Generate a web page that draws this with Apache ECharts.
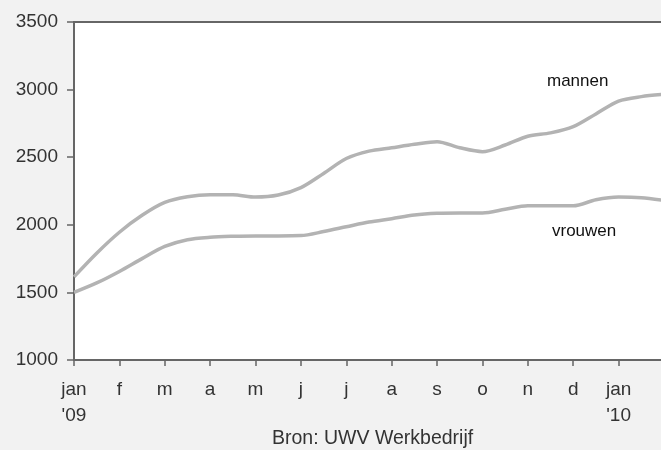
<!DOCTYPE html>
<html>
<head>
<meta charset="utf-8">
<script src="https://cdn.jsdelivr.net/npm/echarts@6/dist/echarts.min.js"></script>
<style>
html,body{margin:0;padding:0;background:#f2f2f2;overflow:hidden;}
#chart{width:661px;height:450px;}
</style>
</head>
<body>
<div id="chart"></div>
<script>
// months since jan '09 (half-month steps)
const months = [0,0.5,1,1.5,2,2.5,3,3.5,4,4.5,5,5.5,6,6.5,7,7.5,8,8.5,9,9.5,10,10.5,11,11.5,12,12.5,13];
const mannen = [1615,1790,1945,2070,2165,2207,2222,2222,2205,2220,2275,2380,2490,2545,2570,2595,2615,2570,2541,2590,2655,2680,2726,2820,2915,2948,2965];
const vrouwen = [1500,1570,1655,1750,1840,1890,1908,1915,1918,1918,1920,1950,1985,2020,2045,2072,2085,2088,2088,2115,2140,2140,2140,2185,2205,2200,2180];
const monthLabels = ["jan\n'09","f","m","a","m","j","j","a","s","o","n","d","jan\n'10","f"];
const yTicks = [1000,1500,2000,2500,3000,3500];

const font = 'Liberation Sans, Arial, sans-serif';
const chart = echarts.init(document.getElementById('chart'), null, {renderer:'canvas'});
const pair = arr => months.map((m,i)=>[m, arr[i]]);

chart.setOption({
  backgroundColor:'#f2f2f2',
  animation:false,
  grid:{left:74,width:590,top:22,bottom:90,show:true,containLabel:false,outerBoundsMode:'none',
        backgroundColor:'#ffffff',borderColor:'#666666',borderWidth:2},
  xAxis:{
    type:'value',min:0,max:13,interval:1,
    axisLine:{show:true,lineStyle:{color:'#666666',width:2}},
    axisTick:{show:true,length:6,lineStyle:{color:'#666666',width:1.5}},
    splitLine:{show:false},
    axisLabel:{
      margin:17,color:'#333333',fontSize:19,fontFamily:font,lineHeight:26,
      showMaxLabel:true,showMinLabel:true,
      formatter:v=>monthLabels[Math.round(v)] || ''
    }
  },
  yAxis:{
    type:'value',min:yTicks[0],max:yTicks[yTicks.length-1],interval:500,
    axisLine:{show:true,lineStyle:{color:'#666666',width:2}},
    axisTick:{show:true,length:7,lineStyle:{color:'#666666',width:1.5}},
    splitLine:{show:false},
    axisLabel:{margin:16,color:'#333333',fontSize:19,fontFamily:font,formatter:v=>String(v)}
  },
  series:[
    {name:'mannen',type:'line',data:pair(mannen),symbol:'none',smooth:0.3,
     lineStyle:{color:'#b3b3b3',width:3.5}},
    {name:'vrouwen',type:'line',data:pair(vrouwen),symbol:'none',smooth:0.3,
     lineStyle:{color:'#b3b3b3',width:3.5}}
  ],
  graphic:[
    {type:'text',left:547,top:73,style:{text:'mannen',fontSize:17,fontFamily:font,fill:'#111111'}},
    {type:'text',left:552,top:223,style:{text:'vrouwen',fontSize:17,fontFamily:font,fill:'#111111'}},
    {type:'text',left:272,top:429,style:{text:'Bron: UWV Werkbedrijf',fontSize:19.5,fontFamily:font,fill:'#333333'}}
  ]
});
</script>
</body>
</html>
